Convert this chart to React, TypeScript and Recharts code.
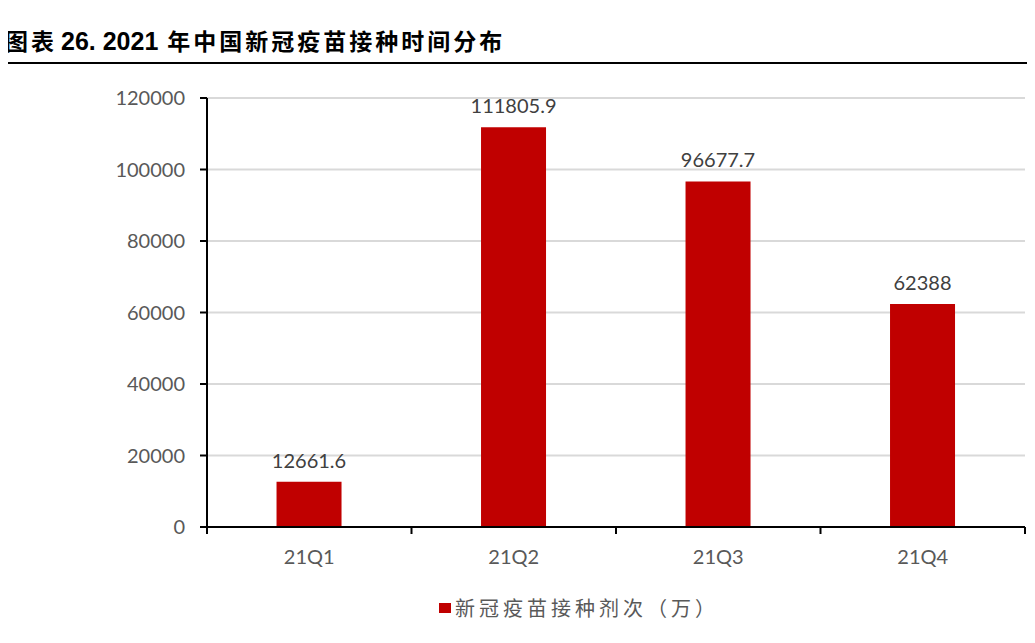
import React from 'react';
import { BarChart, Bar, XAxis, YAxis, CartesianGrid, Legend, LabelList } from 'recharts';

const quarters = ['21Q1', '21Q2', '21Q3', '21Q4'];
const doses = [12661.6, 111805.9, 96677.7, 62388];
const yTicks = [0, 20000, 40000, 60000, 80000, 100000, 120000];
const seriesName = '新冠疫苗接种剂次（万）';

const data = quarters.map((q, i) => ({ quarter: q, value: doses[i] }));

const labelFont = 'Lato, "Open Sans", sans-serif';
const cjkFont = '"Noto Sans CJK SC", sans-serif';

// category ticks: Excel style, tick marks on band boundaries
function QuarterTick(props: any) {
  const { x, y, payload, index } = props;
  const half = payload?.offset ?? 0;
  const last = index === quarters.length - 1;
  return (
    <g>
      <line x1={x - half} y1={y} x2={x - half} y2={y + 7} stroke="#000" strokeWidth={2} />
      {last && <line x1={x + half} y1={y} x2={x + half} y2={y + 7} stroke="#000" strokeWidth={2} />}
      <text x={x} y={y + 37} textAnchor="middle" fill="#595959" fontSize={20} fontFamily={labelFont}>
        {payload.value}
      </text>
    </g>
  );
}

function LegendContent() {
  return (
    <div style={{ display: 'flex', alignItems: 'center' }}>
      <span style={{ display: 'inline-block', width: 12, height: 10, background: '#C00000', marginRight: 4 }} />
      <span style={{ fontFamily: cjkFont, fontSize: 20, color: '#595959', letterSpacing: 4 }}>{seriesName}</span>
    </div>
  );
}

export default function App() {
  return (
    <div style={{ position: 'relative', width: 1035, height: 643, margin: -8, background: '#fff', overflow: 'hidden' }}>
      <div style={{ position: 'absolute', left: 0, top: 0, width: 2, height: 643, background: '#808080' }} />
      <div
        style={{
          position: 'absolute',
          left: 5,
          top: 24,
          fontFamily: cjkFont,
          fontWeight: 'bold',
          fontSize: 23,
          letterSpacing: 3,
          color: '#000',
          whiteSpace: 'nowrap',
          lineHeight: '32px',
        }}
      >
        图表
        <span
          style={{
            fontFamily: '"Liberation Sans Narrow", "Liberation Sans", sans-serif',
            letterSpacing: 0,
            fontSize: 25,
            marginLeft: 4,
            marginRight: 9,
          }}
        >
          26. 2021
        </span>
        年中国新冠疫苗接种时间分布
      </div>
      <div style={{ position: 'absolute', left: 0, top: 62, width: 1035, height: 2, background: '#000' }} />
      <div style={{ position: 'absolute', left: 0, top: 0 }}>
        <BarChart
          width={1035}
          height={643}
          data={data}
          margin={{ top: 98, right: 10, left: 0, bottom: 86 }}
          barCategoryGap="34%"
        >
          <CartesianGrid vertical={false} stroke="#d9d9d9" strokeWidth={2} />
          <XAxis
            dataKey="quarter"
            height={30}
            axisLine={{ stroke: '#000', strokeWidth: 2 }}
            tickLine={false}
            tickSize={0}
            tickMargin={0}
            interval={0}
            tick={<QuarterTick />}
          />
          <YAxis
            width={207}
            domain={[0, 120000]}
            ticks={yTicks}
            interval={0}
            axisLine={{ stroke: '#000', strokeWidth: 2 }}
            tickLine={{ stroke: '#000', strokeWidth: 2 }}
            tickSize={7}
            tickMargin={15}
            tick={{ fill: '#595959', fontSize: 20, fontFamily: labelFont }}
          />
          <Legend
            verticalAlign="middle"
            align="center"
            content={<LegendContent />}
            wrapperStyle={{ top: 593, left: 439, width: 400 }}
          />
          <Bar dataKey="value" name={seriesName} fill="#C00000" isAnimationActive={false}>
            <LabelList
              dataKey="value"
              position="top"
              offset={14}
              fill="#404040"
              fontSize={20}
              fontFamily={labelFont}
            />
          </Bar>
        </BarChart>
      </div>
    </div>
  );
}
